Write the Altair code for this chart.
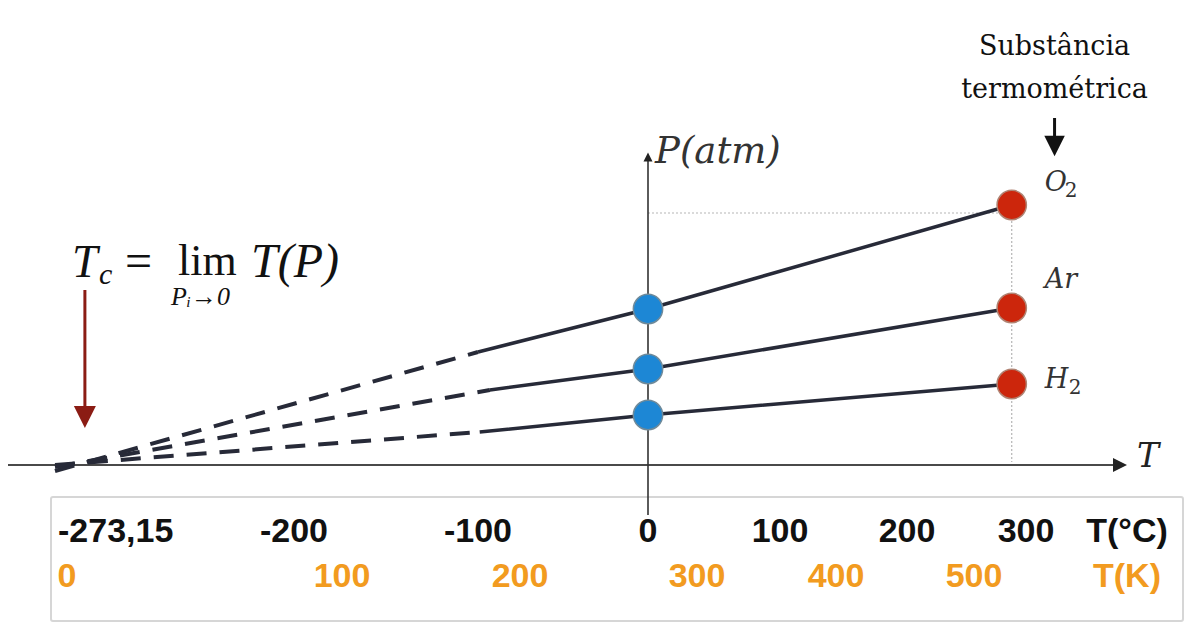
import altair as alt
import pandas as pd

# ---------------- values ----------------
gases = ["O₂", "Ar", "H₂"]
gas_symbol = ["O", "Ar", "H"]
gas_subscript = ["2", "", "2"]
T_abs_zero = -273.15            # °C, where the extrapolated lines meet
T_hot = 288                     # °C, red (hot) measurement points
P_start = [-0.06, -0.02, 0.0]   # atm, extrapolated value at -273.15 °C
T_switch = [-100, -93, -99]     # °C, where the measured (solid) part begins
P_switch = [1.13, 0.75, 0.33]   # atm at T_switch
P_cold = [1.56, 0.96, 0.50]     # atm at 0 °C (blue points)
P_hot = [2.60, 1.57, 0.81]      # atm at T_hot (red points)
gas_label_P = [2.82, 1.85, 0.85]
guide_P = 2.52

celsius_ticks = [-273.15, -200, -100, 0, 100, 200, 300]
celsius_labels = ["-273,15", "-200", "-100", "0", "100", "200", "300"]
kelvin_ticks = [0, 100, 200, 300, 400, 500]
kelvin_labels = ["0", "100", "200", "300", "400", "500"]

tc_arrow_T = -264
tc_text_P = 1.88
subst_T = 324

# ---------------- tables built from the arrays ----------------
dashed = pd.DataFrame({
    "gas": gases * 2,
    "T": [T_abs_zero] * 3 + T_switch,
    "P": P_start + P_switch,
})
solid = pd.DataFrame({
    "gas": gases * 3,
    "T": T_switch + [0] * 3 + [T_hot] * 3,
    "P": P_switch + P_cold + P_hot,
})
cold = pd.DataFrame({"gas": gases, "T": [0] * 3, "P": P_cold})
hot = pd.DataFrame({"gas": gases, "sym": gas_symbol, "sub": gas_subscript,
                    "T": [T_hot] * 3, "P": P_hot, "LP": gas_label_P})
cel = pd.DataFrame({"T": celsius_ticks, "label": celsius_labels})
kel = pd.DataFrame({"K": kelvin_ticks, "label": kelvin_labels})

W, H = 1184, 615
xscale = alt.Scale(domain=celsius_ticks, range=[47, 286, 470, 640, 772, 899, 1018],
                   zero=False, nice=False)
kscale = alt.Scale(domain=kelvin_ticks, range=[59, 334, 512, 689, 828, 966],
                   zero=False, nice=False)
yscale = alt.Scale(domain=[-1.58, 4.57], zero=False, nice=False)

X = lambda f="T": alt.X(f"{f}:Q", scale=xscale, axis=None)
Y = lambda f="P": alt.Y(f"{f}:Q", scale=yscale, axis=None)

one = lambda **kw: alt.Data(values=[kw])

LINE = "#272a38"
ORANGE = "#f29b20"
SERIF_M = "DejaVu Serif"
SERIF_T = "Liberation Serif"
SANS = "Liberation Sans"

ARROW_DOWN = "M-1,-1L1,-1L0,1Z"
ARROW_UP = "M-1,1L0,-1L1,1Z"
ARROW_RIGHT = "M-1,-1L1,0L-1,1Z"

layers = []

# frame around the temperature scales
layers.append(alt.Chart(one(a=1)).mark_rect(fill="white", stroke="#d6d6d6", strokeWidth=2,
                                           cornerRadius=2)
              .encode(x=alt.value(43), x2=alt.value(1175), y=alt.value(489), y2=alt.value(613)))

# dotted guides
layers.append(alt.Chart(one(T=0, T2=T_hot, P=guide_P)).mark_rule(
    color="#b5b5b5", strokeWidth=1.2, strokeDash=[2, 2]).encode(x=X(), x2="T2:Q", y=Y()))
layers.append(alt.Chart(one(T=T_hot, P=guide_P, P2=0.03)).mark_rule(
    color="#b5b5b5", strokeWidth=1.2, strokeDash=[2, 2]).encode(x=X(), y=Y(), y2="P2:Q"))

# T axis
layers.append(alt.Chart(one(P=0)).mark_rule(color="#4a4a4a", strokeWidth=2.2)
              .encode(y=Y(), x=alt.value(0), x2=alt.value(1112)))
layers.append(alt.Chart(one(P=0)).mark_point(shape=ARROW_RIGHT, filled=True, size=196,
                                            color="#222", opacity=1)
              .encode(y=Y(), x=alt.value(1112)))
layers.append(alt.Chart(one(P=0)).mark_text(text="T", font=SERIF_M, fontStyle="italic",
                                           fontSize=33, align="left", baseline="alphabetic",
                                           dy=2, color="#222")
              .encode(y=Y(), x=alt.value(1129)))

# P axis
layers.append(alt.Chart(one(T=0)).mark_rule(color="#333", strokeWidth=1.6)
              .encode(x=X(), y=alt.value(150), y2=alt.value(507)))
layers.append(alt.Chart(one(T=0)).mark_point(shape=ARROW_UP, filled=True, size=81,
                                            color="#222", opacity=1)
              .encode(x=X(), y=alt.value(149)))
layers.append(alt.Chart(one(T=0)).mark_text(text="P(atm)", font=SERIF_M, fontStyle="italic",
                                           fontSize=37, align="left", baseline="alphabetic",
                                           dx=7, color="#333")
              .encode(x=X(), y=alt.value(155)))

# extrapolated (dashed) and measured (solid) lines
layers.append(alt.Chart(dashed).mark_line(color=LINE, strokeWidth=4, strokeDash=[20, 13])
              .encode(x=X(), y=Y(), detail="gas:N"))
layers.append(alt.Chart(solid).mark_line(color=LINE, strokeWidth=3.5)
              .encode(x=X(), y=Y(), detail="gas:N"))

# points
layers.append(alt.Chart(cold).mark_circle(size=860, color="#1d87d5", opacity=1,
                                          stroke="#6f8a9a", strokeWidth=1.5)
              .encode(x=X(), y=Y()))
layers.append(alt.Chart(hot).mark_circle(size=860, color="#cc260c", opacity=1,
                                         stroke="#b08373", strokeWidth=1.5)
              .encode(x=X(), y=Y()))

# gas labels: italic symbol + upright subscript
layers.append(alt.Chart(hot).mark_text(font=SERIF_M, fontStyle="italic", fontSize=27,
                                       align="left", baseline="middle", dx=33, color="#333")
              .encode(x=X(), y=Y("LP"), text="sym:N"))
for sym, dx in (("O", 53), ("H", 57)):
    layers.append(alt.Chart(hot).transform_filter(alt.datum.sym == sym)
                  .mark_text(font=SERIF_M, fontSize=20, align="left", baseline="middle",
                             dx=dx, dy=8, color="#333")
                  .encode(x=X(), y=Y("LP"), text="sub:N"))

# "Substância termométrica" with arrow
layers.append(alt.Chart(one(T=subst_T, P=4.18)).mark_text(
    text="Substância", font=SERIF_M, fontSize=27, align="center", baseline="middle",
    color="#111").encode(x=X(), y=Y()))
layers.append(alt.Chart(one(T=subst_T, P=3.75)).mark_text(
    text="termométrica", font=SERIF_M, fontSize=27, align="center", baseline="middle",
    color="#111").encode(x=X(), y=Y()))
layers.append(alt.Chart(one(T=subst_T, P=3.47, P2=3.25)).mark_rule(color="#111", strokeWidth=3)
              .encode(x=X(), y=Y(), y2="P2:Q"))
layers.append(alt.Chart(one(T=subst_T, P=3.19)).mark_point(shape=ARROW_DOWN, filled=True,
                                                          size=420, color="#111", opacity=1)
              .encode(x=X(), y=Y()))

# absolute-zero arrow
layers.append(alt.Chart(one(T=tc_arrow_T, P=1.75, P2=0.55)).mark_rule(color="#8b1c14",
                                                                      strokeWidth=3)
              .encode(x=X(), y=Y(), y2="P2:Q"))
layers.append(alt.Chart(one(T=tc_arrow_T, P=0.48)).mark_point(shape=ARROW_DOWN, filled=True,
                                                             size=484, color="#8b1c14",
                                                             opacity=1)
              .encode(x=X(), y=Y()))

# Tc = lim T(P) formula
def piece(text, dx, dy, size, italic):
    return (alt.Chart(one(T=T_abs_zero, P=tc_text_P))
            .mark_text(text=text, font=SERIF_T, fontSize=size,
                       fontStyle="italic" if italic else "normal",
                       align="left", baseline="alphabetic", dx=dx, dy=dy, color="#111")
            .encode(x=X(), y=Y()))

layers += [
    piece("T", 17, 0, 46, True),
    piece("c", 44, 7, 30, True),
    piece("=", 70, 0, 48, False),
    piece("lim", 123, -2, 44, False),
    piece("T(P)", 196, 0, 48, True),
    piece("Pᵢ→0", 116, 28, 26, True),
]

# Celsius scale labels
layers.append(alt.Chart(cel.iloc[:1]).mark_text(font=SANS, fontWeight="bold", fontSize=34,
                                                align="left", baseline="alphabetic",
                                                dx=3, color="#111")
              .encode(x=X(), y=alt.value(534), text="label:N"))
layers.append(alt.Chart(cel.iloc[1:]).mark_text(font=SANS, fontWeight="bold", fontSize=34,
                                                align="center", baseline="alphabetic",
                                                color="#111")
              .encode(x=X(), y=alt.value(534), text="label:N"))
layers.append(alt.Chart(one(a=1)).mark_text(text="T(°C)", font=SANS, fontWeight="bold",
                                           fontSize=34, align="center",
                                           baseline="alphabetic", color="#111")
              .encode(x=alt.value(1119), y=alt.value(534)))
layers.append(alt.Chart(one(a=1)).mark_text(text="T(K)", font=SANS, fontWeight="bold",
                                           fontSize=34, align="center",
                                           baseline="alphabetic", color=ORANGE)
              .encode(x=alt.value(1119), y=alt.value(579)))

main = alt.layer(*layers)

klayer = alt.Chart(kel).mark_text(font=SANS, fontWeight="bold", fontSize=34, align="center",
                                  baseline="alphabetic", color=ORANGE).encode(
    x=alt.X("K:Q", scale=kscale, axis=None), y=alt.value(579), text="label:N")

chart = (alt.layer(main, klayer)
         .resolve_scale(x="independent")
         .properties(width=W, height=H, padding=0, autosize="none", background="white")
         .configure_view(stroke=None))

chart.save("out.html", embed_options={"renderer": "svg", "actions": False})
